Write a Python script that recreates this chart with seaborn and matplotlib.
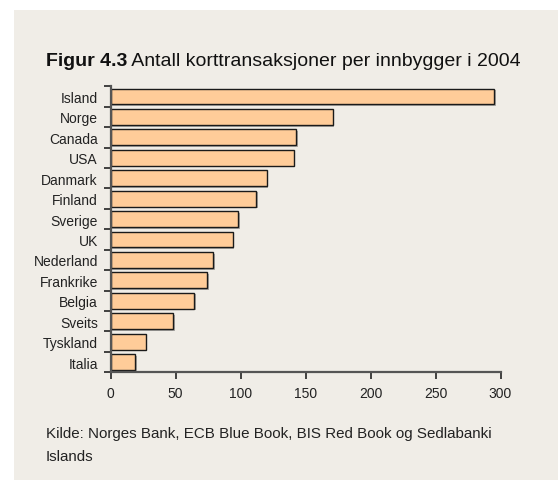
import matplotlib
matplotlib.use("Agg")
import matplotlib.pyplot as plt
import matplotlib.patheffects as pe
from matplotlib.patches import Rectangle
from matplotlib.ticker import FixedLocator, FixedFormatter, NullFormatter
import seaborn as sns
import pandas as pd

countries = ["Island", "Norge", "Canada", "USA", "Danmark", "Finland", "Sverige",
             "UK", "Nederland", "Frankrike", "Belgia", "Sveits", "Tyskland", "Italia"]
transactions = [295, 171, 143, 141, 120, 112, 98, 94, 79, 74.5, 64.5, 48, 27, 19]
x_ticks = [0, 50, 100, 150, 200, 250, 300]

title_bold = "Figur 4.3"
title_rest = " Antall korttransaksjoner per innbygger i 2004"
source = "Kilde: Norges Bank, ECB Blue Book, BIS Red Book og Sedlabanki\nIslands"

sns.set_theme(style="white")
plt.rcParams["font.family"] = ["Liberation Sans Narrow", "Liberation Sans", "DejaVu Sans"]

panel = "#F0EDE7"
fig = plt.figure(figsize=(5.58, 4.81), dpi=100, facecolor="white")
fig.patches.append(Rectangle((14 / 558, 0), 1 - 14 / 558, 1 - 11 / 481,
                             transform=fig.transFigure, facecolor=panel,
                             edgecolor="none", zorder=-10))

ax = fig.add_axes([110.5 / 558, 1 - 373.3 / 481, 390 / 558, (373.3 - 87.3) / 481])
ax.set_zorder(5)
ax.set_facecolor("none")

df = pd.DataFrame({"land": countries, "antall": transactions})
sns.barplot(data=df, x="antall", y="land", orient="h", color="#FFCC99",
            saturation=1, width=0.78, edgecolor="#1a1a1a", linewidth=1.0, ax=ax)
for bar in ax.patches:
    bar.set_path_effects([pe.SimplePatchShadow(offset=(1.2, -1.2), alpha=0.45,
                                               shadow_rgbFace="#555555"),
                          pe.Normal()])

n = len(countries)
ax.set_xlim(0, 300)
ax.set_ylim(n - 0.5, -0.5)
ax.set_xticks(x_ticks)
ax.set_xticklabels([str(t) for t in x_ticks])

# Tick marks sit on category boundaries, labels at bar centres
ax.yaxis.set_major_locator(FixedLocator([i - 0.5 for i in range(n + 1)]))
ax.yaxis.set_minor_locator(FixedLocator(list(range(n))))
ax.yaxis.set_major_formatter(NullFormatter())
ax.yaxis.set_minor_formatter(FixedFormatter(countries))
ax.tick_params(axis="y", which="major", left=True, length=5, width=1.3,
               color="#333333")
ax.tick_params(axis="y", which="minor", left=True, length=0, pad=9,
               labelsize=10, labelcolor="#222222")
ax.tick_params(axis="x", bottom=True, length=5, width=1.3, color="#333333",
               labelsize=10, labelcolor="#222222", pad=5)

ax.set_xlabel("")
ax.set_ylabel("")
sns.despine(ax=ax, top=True, right=True)
for side in ("left", "bottom"):
    ax.spines[side].set_color("#555555")
    ax.spines[side].set_linewidth(1.6)

t1 = fig.text(46 / 558, 1 - 66 / 481, title_bold, fontsize=14, fontweight="bold",
              color="#111111", ha="left", va="baseline")
fig.canvas.draw()
bb = t1.get_window_extent()
fig.text(bb.x1 / fig.bbox.width, 1 - 66 / 481, title_rest, fontsize=14,
         color="#111111", ha="left", va="baseline")

fig.text(45.5 / 558, 1 - 438 / 481, source.split("\n")[0], fontsize=10.9,
         color="#222222", ha="left", va="baseline")
fig.text(45.5 / 558, 1 - 461 / 481, source.split("\n")[1], fontsize=10.9,
         color="#222222", ha="left", va="baseline")

fig.savefig("out.png", dpi=100, facecolor="white")
